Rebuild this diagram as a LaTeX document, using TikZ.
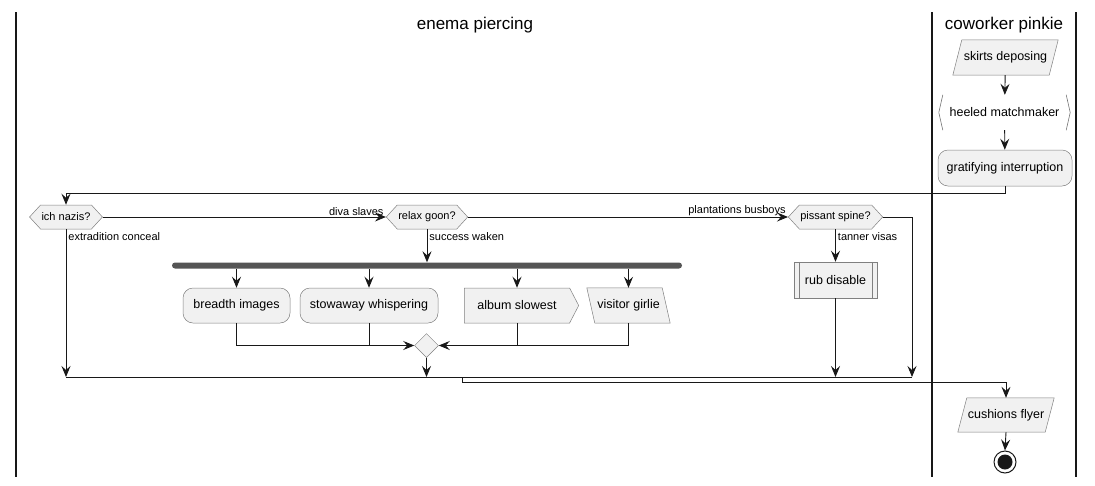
\documentclass[tikz,border=0pt]{standalone}
\usepackage{fontspec}
\setmainfont{Liberation Sans}
\usetikzlibrary{shapes.geometric,shapes.symbols,arrows.meta,backgrounds}
\definecolor{actfill}{HTML}{F1F1F1}
\definecolor{actline}{HTML}{181818}
\definecolor{barfill}{HTML}{555555}
\newcommand{\slantbox}[2]{% node name, slant (pt, + for /)
  \begin{pgfonlayer}{background}
  \draw[draw=actline!55, line width=0.5pt, fill=actfill]
    ([xshift=-#2/2]#1.south west) -- ([xshift=#2/2]#1.north west)
    -- ([xshift=#2/2]#1.north east) -- ([xshift=-#2/2]#1.south east) -- cycle;
  \end{pgfonlayer}}
\begin{document}
\begin{tikzpicture}[x=1pt,y=-1pt,
    font=\fontsize{12.5}{14}\selectfont,
    >={Stealth[length=11pt,width=9pt,inset=4pt]},
    flow/.style={draw=actline, line width=0.9pt},
    lane/.style={draw=actline, line width=1.6pt},
    lanetitle/.style={font=\fontsize{17}{19}\selectfont},
    elabel/.style={font=\fontsize{11}{12}\selectfont, inner sep=1pt},
    act/.style={draw=actline!55, line width=0.5pt, fill=actfill, rounded corners=10pt,
      minimum height=35pt, inner sep=0pt},
    sub/.style={draw=actline!55, line width=0.5pt, fill=actfill,
      minimum height=36pt, inner sep=0pt},
    io/.style={minimum height=35pt, inner sep=0pt},
    sendsig/.style={draw=actline!55, line width=0.5pt, fill=actfill, shape=signal,
      signal to=east, signal pointer angle=125, minimum height=35pt, inner xsep=13pt},
    decision/.style={draw=actline!55, line width=0.5pt, fill=actfill, shape=signal,
      signal to=west and east, signal pointer angle=95, minimum height=24pt,
      inner xsep=1pt, inner ysep=0pt, font=\fontsize{11}{12}\selectfont},
    merge/.style={draw=actline!55, line width=0.5pt, fill=actfill, shape=diamond,
      minimum size=24pt, inner sep=0pt},
    forkbar/.style={fill=barfill, rounded corners=3pt, minimum height=6pt,
      inner sep=0pt}]
  \useasboundingbox (0,0) rectangle (1095,485);
  % swimlanes
  \draw[lane] (16,12) -- (16,477);
  \draw[lane] (932,12) -- (932,477);
  \draw[lane] (1076,12) -- (1076,477);
  \node[lanetitle] (titleA) at (475,25) {enema piercing};
  \node[lanetitle] (titleB) at (1004,25) {coworker pinkie};
  % coworker pinkie lane
  \node[io, minimum width=96pt] (skirts) at (1005.5,57.5) {skirts deposing};
  \slantbox{skirts}{9pt}
  \node[minimum height=35pt, minimum width=131pt, inner sep=0pt]
    (heeled) at (1004.5,112.5) {heeled matchmaker};
  \draw[draw=actline!60, line width=0.6pt]
    ([xshift=4pt]heeled.north west) -- (heeled.west) -- ([xshift=4pt]heeled.south west)
    ([xshift=-4pt]heeled.north east) -- (heeled.east) -- ([xshift=-4pt]heeled.south east);
  \node[act, minimum width=134pt, minimum height=36pt] (grat) at (1005,168) {gratifying interruption};
  % decisions
  \node[decision] (nazis) at (66,217) {ich nazis?};
  \node[decision] (relax) at (427,217) {relax goon?};
  \node[decision] (pissant) at (835.5,217) {pissant spine?};
  % fork and parallel activities
  \node[forkbar, minimum width=510pt] (fork) at (427,265.5) {};
  \node[act, minimum width=107pt] (breadth) at (236.5,305.5) {breadth images};
  \node[act, minimum width=138pt] (stowaway) at (369,305.5) {stowaway whispering};
  \node[sendsig] (album) at (517,305.5) {album slowest};
  \node[io, minimum width=75pt] (visitor) at (628.5,305.5) {visitor girlie};
  \slantbox{visitor}{-8pt}
  \node[merge] (join) at (426.5,345.5) {};
  \node[sub, minimum width=83pt] (rub) at (835.5,280) {rub disable};
  \draw[draw=actline!55, line width=0.5pt]
    ([xshift=5pt]rub.north west) -- ([xshift=5pt]rub.south west)
    ([xshift=-5pt]rub.north east) -- ([xshift=-5pt]rub.south east);
  \node[io, minimum width=87pt, minimum height=34pt] (cushions) at (1006,415) {cushions flyer};
  \slantbox{cushions}{9pt}
  \node[circle, draw=actline, line width=1pt, minimum size=22pt, inner sep=0pt]
    (stop) at (1005,462) {};
  \fill[actline] (stop.center) circle (7.5pt);
  % merge points
  \coordinate (endA) at (66,377);
  \coordinate (endB) at (426.5,377);
  \coordinate (endC) at (835.5,377);
  \coordinate (endD) at (912,377);
  \coordinate (out) at (462,377);
  % connectors
  \begin{scope}[flow]
    \draw[->] (skirts) -- (heeled);
    \draw[->] (heeled) -- (grat);
    \draw[->] (grat.south) -- ++(0,7) -| (nazis.north);
    \draw[->] (nazis.east) -- (relax.west)
      node[elabel, pos=1, anchor=south east, xshift=-1pt] (lblA) {diva slaves};
    \draw[->] (relax.east) -- (pissant.west)
      node[elabel, pos=1, anchor=south east, xshift=-1pt] (lblB) {plantations busboys};
    \draw[->] (nazis.south) -- (endA)
      node[elabel, pos=0, anchor=north west, xshift=1pt, yshift=-2pt] (lblC) {extradition conceal};
    \draw[->] (relax.south) -- (relax.south |- fork.north)
      node[elabel, pos=0, anchor=north west, xshift=1pt, yshift=-2pt] (lblD) {success waken};
    \draw[->] (pissant.south) -- (rub.north)
      node[elabel, pos=0, anchor=north west, xshift=1pt, yshift=-2pt] (lblE) {tanner visas};
    \draw[->] (pissant.east) -| (endD);
    \draw[->] (rub.south) -- (endC);
    \draw[->] (breadth.north |- fork.south) -- (breadth.north);
    \draw[->] (stowaway.north |- fork.south) -- (stowaway.north);
    \draw[->] (album.north |- fork.south) -- (album.north);
    \draw[->] (visitor.north |- fork.south) -- (visitor.north);
    \draw[->] (breadth.south) |- (join.west);
    \draw (stowaway.south) -- (stowaway.south |- join.west);
    \draw[->] (visitor.south) |- (join.east);
    \draw (album.south) -- (album.south |- join.east);
    \draw[->] (join.south) -- (endB);
    \draw (endA) -- (endD);
    \draw[->] (out) -- ++(0,5) -| (cushions.north);
    \draw[->] (cushions.south) -- (stop.north);
  \end{scope}
\end{tikzpicture}
\end{document}
